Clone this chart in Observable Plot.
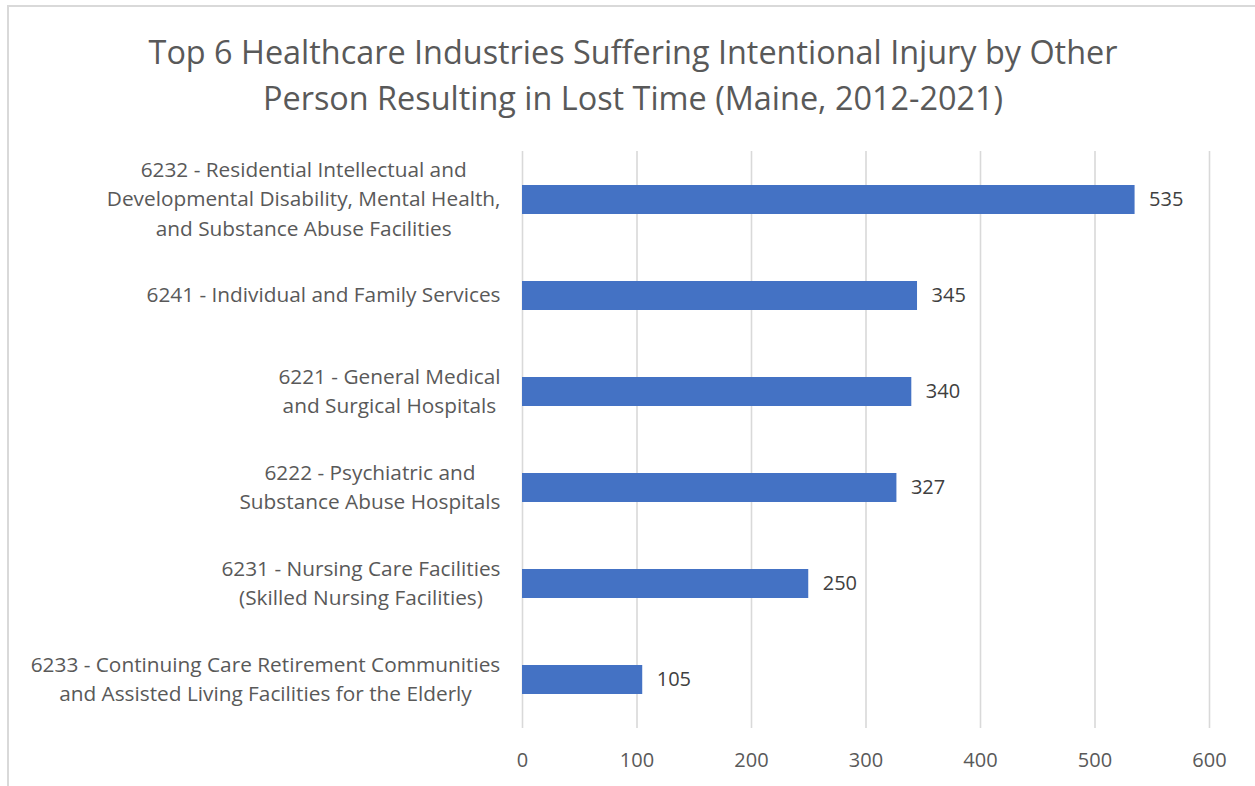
<!DOCTYPE html>
<html>
<head>
<meta charset="utf-8">
<script src="https://cdn.jsdelivr.net/npm/d3@7"></script>
<script src="https://cdn.jsdelivr.net/npm/@observablehq/plot@0.6"></script>
<style>
  html, body { margin: 0; padding: 0; background: #fff; }
  #wrap { position: relative; width: 1255px; height: 786px; overflow: hidden; background: #fff; }
  #frame { position: absolute; left: 7px; top: 5px; width: 1400px; height: 900px; border: 2px solid #d9d9d9; box-sizing: border-box; }
  #title { position: absolute; left: 8px; width: 1250px; top: 28px; text-align: center;
           font-family: "Open Sans", Lato, sans-serif; font-size: 32.4px; line-height: 46px; color: #595959; }
  #chart { position: absolute; left: 0; top: 130px; }
</style>
</head>
<body>
<div id="wrap">
  <div id="frame"></div>
  <div id="title">Top 6 Healthcare Industries Suffering Intentional Injury by Other<br>Person Resulting in Lost Time (Maine, 2012-2021)</div>
  <div id="chart"></div>
</div>
<script>
const categories = [
  "6232 - Residential Intellectual and\nDevelopmental Disability, Mental Health,\nand Substance Abuse Facilities",
  "6241 - Individual and Family Services",
  "6221 - General Medical\nand Surgical Hospitals",
  "6222 - Psychiatric and\nSubstance Abuse Hospitals",
  "6231 - Nursing Care Facilities\n(Skilled Nursing Facilities)",
  "6233 - Continuing Care Retirement Communities\nand Assisted Living Facilities for the Elderly"
];
const values = [535, 345, 340, 327, 250, 105];
const xTicks = [0, 100, 200, 300, 400, 500, 600];

const data = categories.map((c, i) => ({category: c, value: values[i]}));

const chart = Plot.plot({
  width: 1255,
  height: 656,
  marginTop: 21,
  marginBottom: 58,
  marginLeft: 522,
  marginRight: 46,
  style: {fontFamily: "'Open Sans', Lato, sans-serif", fontSize: "20px", color: "#595959", background: "transparent"},
  x: {domain: [0, 600]},
  y: {domain: categories, paddingInner: 0.7, paddingOuter: 0.35},
  marks: [
    Plot.ruleX(xTicks, {stroke: "#d9d9d9", strokeWidth: 1.6}),
    Plot.barX(data, {x: "value", y: "category", fill: "#4472C4"}),
    Plot.text(data, {x: "value", y: "category", text: d => String(d.value), textAnchor: "start", dx: 14, fontSize: 20, fill: "#404040"}),
    Plot.axisX({ticks: xTicks, tickSize: 0, tickPadding: 24, fontSize: 20, label: null, fill: "#595959"}),
    Plot.axisY({tickSize: 0, tickPadding: 22, fontSize: 20.8, lineHeight: 1.42, label: null, fill: "#595959", dy: -3})
  ]
});
document.getElementById("chart").appendChild(chart);

// center the lines of each multi-line category label within its right-aligned block
const yLabels = chart.querySelectorAll('g[aria-label="y-axis tick label"] text');
yLabels.forEach(t => {
  const w = t.getBBox().width;
  t.setAttribute("text-anchor", "middle");
  const tr = t.getAttribute("transform") || "";
  t.setAttribute("transform", tr + ` translate(${-w / 2},0)`);
});
</script>
</body>
</html>
